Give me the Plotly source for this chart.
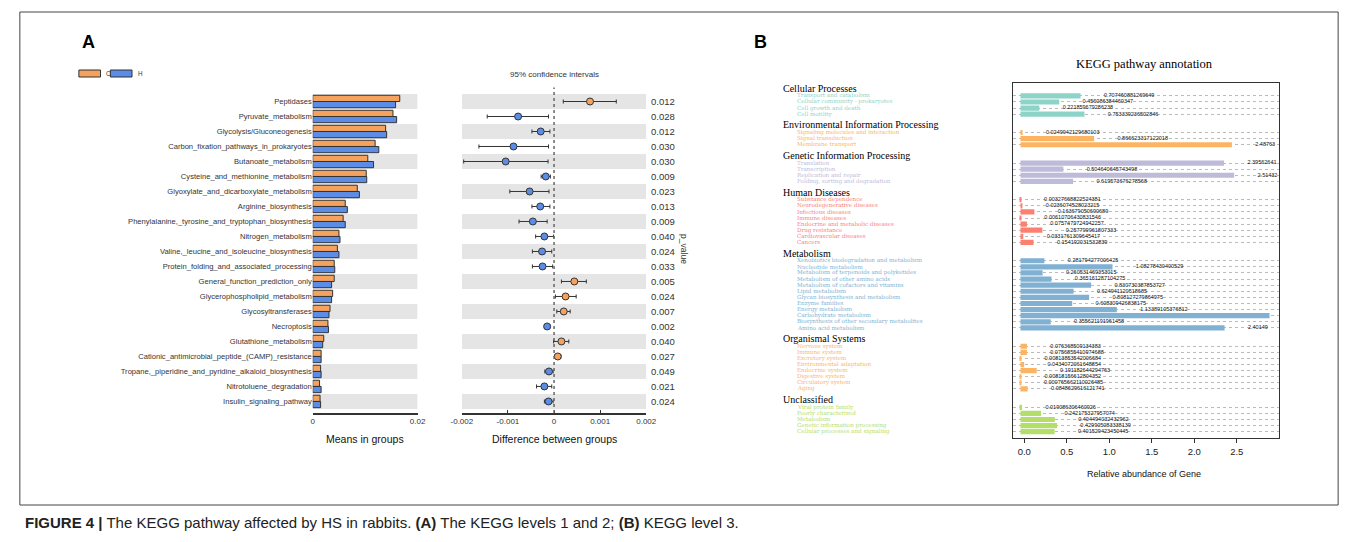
import plotly.graph_objects as go

W, H = 1358, 542

# ---------------- Panel A data ----------------
pathways = ["Peptidases", "Pyruvate_metabolism", "Glycolysis/Gluconeogenesis",
            "Carbon_fixation_pathways_in_prokaryotes", "Butanoate_metabolism",
            "Cysteine_and_methionine_metabolism", "Glyoxylate_and_dicarboxylate_metabolism",
            "Arginine_biosynthesis", "Phenylalanine,_tyrosine_and_tryptophan_biosynthesis",
            "Nitrogen_metabolism", "Valine,_leucine_and_isoleucine_biosynthesis",
            "Protein_folding_and_associated_processing", "General_function_prediction_only",
            "Glycerophospholipid_metabolism", "Glycosyltransferases", "Necroptosis",
            "Glutathione_metabolism", "Cationic_antimicrobial_peptide_(CAMP)_resistance",
            "Tropane,_piperidine_and_pyridine_alkaloid_biosynthesis",
            "Nitrotoluene_degradation", "Insulin_signaling_pathway"]
mean_C = [0.0166, 0.0153, 0.0139, 0.0119, 0.0105, 0.0102, 0.0085, 0.0062, 0.0058, 0.0050,
          0.0047, 0.0041, 0.0041, 0.0038, 0.0033, 0.0029, 0.0021, 0.0016, 0.0015, 0.0013, 0.0014]
mean_H = [0.0158, 0.0160, 0.0141, 0.0126, 0.0116, 0.0103, 0.0089, 0.0066, 0.0062, 0.0052,
          0.0050, 0.0042, 0.0036, 0.0036, 0.0031, 0.0030, 0.0019, 0.0016, 0.0016, 0.0016, 0.0015]
diff = [0.00078, -0.00078, -0.00029, -0.00088, -0.00105, -0.00018, -0.00053, -0.00030,
        -0.00046, -0.00021, -0.00026, -0.00025, 0.00044, 0.00025, 0.00021, -0.00015,
        0.00016, 0.00008, -0.00011, -0.00021, -0.00012]
ci_low = [0.00020, -0.00145, -0.00048, -0.00163, -0.00196, -0.00028, -0.00096, -0.00048,
          -0.00076, -0.00040, -0.00047, -0.00047, 0.00016, 0.00003, 0.00006, -0.00021,
          -0.00001, 0.00002, -0.00020, -0.00038, -0.00021]
ci_high = [0.00135, -0.00012, -0.00009, -0.00012, -0.00013, -0.00008, -0.00011, -0.00009,
           -0.00015, -0.00001, -0.00005, -0.00003, 0.00070, 0.00048, 0.00035, -0.00009,
           0.00032, 0.00015, -0.00002, -0.00005, -0.00002]
p_values = ["0.012", "0.028", "0.012", "0.030", "0.030", "0.009", "0.023", "0.013", "0.009",
            "0.040", "0.024", "0.033", "0.005", "0.024", "0.007", "0.002", "0.040", "0.027",
            "0.049", "0.021", "0.024"]
group_names = ["C", "H"]
mean_ticks = [0, 0.02]
mean_ticktext = ["0", "0.02"]
diff_ticks = [-0.002, -0.001, 0, 0.001, 0.002]
diff_ticktext = ["-0.002", "-0.001", "0", "0.001", "0.002"]

# ---------------- Panel B data ----------------
kegg_groups = ["Cellular Processes", "Environmental Information Processing",
               "Genetic Information Processing", "Human Diseases", "Metabolism",
               "Organismal Systems", "Unclassified"]
group_colors = ["#8DD3C7", "#FDB462", "#BEBADA", "#FB8072", "#80B1D3", "#FDB462", "#B3DE69"]

cellular_items = ["Transport and catabolism", "Cellular community - prokaryotes",
                  "Cell growth and death", "Cell motility"]
cellular_values = [0.707460881269649, 0.456086384460347, 0.221859679286238, 0.753339236502846]

environmental_items = ["Signaling molecules and interaction", "Signal transduction",
                       "Membrane transport"]
environmental_values = [0.0249942129680103, 0.866623317122018, 2.48763]

genetic_items = ["Translation", "Transcription", "Replication and repair",
                 "Folding, sorting and degradation"]
genetic_values = [2.39562641, 0.504640645743498, 2.51432, 0.619573676278568]

human_items = ["Substance dependence", "Neurodegenerative diseases", "Infectious diseases",
               "Immune diseases", "Endocrine and metabolic diseases", "Drug resistance",
               "Cardiovascular diseases", "Cancers"]
human_values = [0.00327668822524381, 0.0236074528023215, 0.163679050690689,
                0.00610706430831546, 0.0757479724942257, 0.257799961807333,
                0.0331761309645417, 0.154192031532839]

metabolism_items = ["Xenobiotics biodegradation and metabolism", "Nucleotide metabolism",
                    "Metabolism of terpenoids and polyketides", "Metabolism of other amino acids",
                    "Metabolism of cofactors and vitamins", "Lipid metabolism",
                    "Glycan biosynthesis and metabolism", "Enzyme families", "Energy metabolism",
                    "Carbohydrate metabolism", "Biosynthesis of other secondary metabolites",
                    "Amino acid metabolism"]
metabolism_values = [0.281794277006425, 1.08278430400529, 0.260531469353015,
                     0.365161287104275, 0.830730387853727, 0.624941120518685,
                     0.808127279864975, 0.608309426838175, 1.13389105376812, 2.93,
                     0.355621191961458, 2.40149]

organismal_items = ["Nervous system", "Immune system", "Excretory system",
                    "Environmental adaptation", "Endocrine system", "Digestive system",
                    "Circulatory system", "Aging"]
organismal_values = [0.076368509134383, 0.0756855410974688, 0.00813853542006684,
                     0.0434072061648854, 0.191182644294763, 0.00818156612804352,
                     0.000765662110026485, 0.0848629616121741]

unclassified_items = ["Viral protein family", "Poorly characterized", "Metabolism",
                      "Genetic information processing", "Cellular processes and signaling"]
unclassified_values = [0.019086306460926, 0.242175327957074, 0.404494032432962,
                       0.429905083338139, 0.401529423450445]

group_items = [cellular_items, environmental_items, genetic_items, human_items,
               metabolism_items, organismal_items, unclassified_items]
group_values = [cellular_values, environmental_values, genetic_values, human_values,
                metabolism_values, organismal_values, unclassified_values]
abundance_ticks = [0.0, 0.5, 1.0, 1.5, 2.0, 2.5]
abundance_ticktext = ["0.0", "0.5", "1.0", "1.5", "2.0", "2.5"]

# ---------------- helpers ----------------
def px(x):
    return x / W


def py(y):
    return 1 - y / H


ORANGE = "#F5A25E"
BLUE = "#5B8DE6"
EDGE = "#333333"
SANS = "Liberation Sans, Arial, sans-serif"
SERIF = "Liberation Serif, Times New Roman, serif"
SERIF_WIDE = "DejaVu Serif, serif"


def note(text, x, y, size, color="#333333", family=SANS, xanchor="center", **kw):
    return dict(text=text, x=px(x), y=py(y), xref="paper", yref="paper",
                xanchor=xanchor, yanchor="middle", showarrow=False,
                font=dict(family=family, size=size, color=color), **kw)


fig = go.Figure()

# ---- Panel A: means in groups ----
for name, vals, col in zip(group_names, [mean_C, mean_H], [ORANGE, BLUE]):
    fig.add_trace(go.Bar(
        y=pathways, x=vals, orientation="h", name=name,
        marker=dict(color=col, line=dict(color=EDGE, width=1)),
        xaxis="x", yaxis="y", showlegend=False))

# ---- Panel A: difference with 95% CI ----
fig.add_trace(go.Scatter(
    x=diff, y=pathways, mode="markers", xaxis="x2", yaxis="y",
    marker=dict(size=7, color=[ORANGE if d > 0 else BLUE for d in diff],
                line=dict(color=EDGE, width=1)),
    error_x=dict(type="data", symmetric=False,
                 array=[h - d for h, d in zip(ci_high, diff)],
                 arrayminus=[d - l for d, l in zip(diff, ci_low)],
                 color=EDGE, thickness=1, width=2),
    showlegend=False))

shapes = []
annotations = []
n_rows = len(pathways)
for i in range(0, n_rows, 2):
    for xr, x0, x1 in [("x", 0, 0.02), ("x2", -0.002, 0.002)]:
        shapes.append(dict(type="rect", xref=xr, yref="y", x0=x0, x1=x1,
                           y0=i - 0.5, y1=i + 0.5, fillcolor="#E5E5E5",
                           line=dict(width=0), layer="below"))
shapes.append(dict(type="line", xref="x2", yref="y domain", x0=0, x1=0, y0=0, y1=1.02,
                   line=dict(color="#666666", width=1.5, dash="dot")))

for i, p in enumerate(p_values):
    annotations.append(dict(text=p, x=px(649), xref="paper", y=i, yref="y",
                            xanchor="left", yanchor="middle", showarrow=False,
                            font=dict(family=SANS, size=9.5, color="#333333")))

# legend swatches for C / H
for (x0, x1, col), (tx, name) in zip([(69, 91, ORANGE), (101, 123, BLUE)],
                                     [(94.5, "C"), (127, "H")]):
    shapes.append(dict(type="rect", xref="paper", yref="paper", x0=px(x0), x1=px(x1),
                       y0=py(77), y1=py(70), fillcolor=col, line=dict(color=EDGE, width=1)))
    annotations.append(note(name, tx, 73.5, 6.3, xanchor="left"))

annotations += [
    note("95% confidence intervals", 552, 74, 8),
    note("p_value", 684, 249, 8.5, textangle=90),
    note("Means in groups", 360, 439, 10.5, color="#111111"),
    note("Difference between groups", 552, 439, 10.5, color="#111111"),
    note("<b>A</b>", 79, 42, 18, color="#000000"),
    note("<b>B</b>", 762, 42, 18, color="#000000"),
]

# ---- Panel B ----
row = 0
item_rows = []
for gname, gcol, items, vals in zip(kegg_groups, group_colors, group_items, group_values):
    annotations.append(dict(text=gname, x=px(783), xref="paper", y=row, yref="y3",
                            xanchor="left", yanchor="middle", showarrow=False, yshift=1.5,
                            font=dict(family=SERIF, size=10, color="#000000")))
    rows = list(range(row + 1, row + 1 + len(items)))
    for r, it in zip(rows, items):
        annotations.append(dict(text=it, x=px(797), xref="paper", y=r, yref="y3",
                                xanchor="left", yanchor="middle", showarrow=False,
                                font=dict(family=SERIF_WIDE, size=5.6, color=gcol)))
    fig.add_trace(go.Bar(
        y=rows, x=vals, base=-0.045, orientation="h", width=0.85,
        marker=dict(color=gcol, line=dict(width=0)),
        xaxis="x3", yaxis="y3", showlegend=False))
    fig.add_trace(go.Scatter(
        y=rows, x=[v + 0.23 for v in vals], text=[repr(v) for v in vals],
        mode="text", textposition="middle right", cliponaxis=True,
        textfont=dict(family=SANS, size=5.5, color="#111111"),
        xaxis="x3", yaxis="y3", showlegend=False, hoverinfo="skip"))
    item_rows += rows
    row += len(items) + 2

annotations += [
    note("KEGG pathway annotation", 1152, 64, 12.5, color="#000000", family=SERIF),
    note("Relative abundance of Gene", 1152, 474, 9, color="#111111"),
]

# frame and caption
shapes.append(dict(type="rect", xref="paper", yref="paper", x0=px(9), x1=px(1349),
                   y0=py(505), y1=py(12), line=dict(color="#444444", width=1),
                   fillcolor="rgba(0,0,0,0)"))
annotations.append(note(
    "<b>FIGURE 4 |</b> The KEGG pathway affected by HS in rabbits. <b>(A)</b> The KEGG "
    "levels 1 and 2; <b>(B)</b> KEGG level 3.", 12, 522, 15, color="#222222",
    xanchor="left"))

fig.update_layout(
    width=W, height=H, autosize=False, margin=dict(l=0, r=0, t=0, b=0),
    paper_bgcolor="white", plot_bgcolor="rgba(0,0,0,0)",
    barmode="group", bargap=0.17, bargroupgap=0,
    shapes=shapes, annotations=annotations,
    xaxis=dict(domain=[px(306.7), px(413.3)], range=[0, 0.02], anchor="y",
               tickvals=mean_ticks, ticktext=mean_ticktext, ticks="inside", ticklen=3,
               tickcolor=EDGE, showline=True, linecolor=EDGE, linewidth=1.5,
               showgrid=False, zeroline=False,
               tickfont=dict(family=SANS, size=8, color="#333333")),
    yaxis=dict(domain=[py(413), py(94)], type="category", range=[20.77, -0.5],
               anchor="x", showgrid=False, zeroline=False, ticks="", showline=False,
               tickfont=dict(family=SANS, size=7.6, color="#333333")),
    xaxis2=dict(domain=[px(458.3), px(645.7)], range=[-0.002, 0.002], anchor="y",
                tickvals=diff_ticks, ticktext=diff_ticktext, ticks="inside", ticklen=3,
                tickcolor=EDGE, showline=True, linecolor=EDGE, linewidth=1.5,
                showgrid=False, zeroline=False,
                tickfont=dict(family=SANS, size=8, color="#333333")),
    xaxis3=dict(domain=[px(1019), px(1289)], range=[-0.127, 2.998], anchor="y3",
                tickvals=abundance_ticks, ticktext=abundance_ticktext,
                ticks="outside", ticklen=4, tickcolor=EDGE, showline=True, mirror=True,
                linecolor="#333333", linewidth=1, showgrid=False, zeroline=False,
                tickfont=dict(family=SANS, size=9.5, color="#222222")),
    yaxis3=dict(domain=[py(438.3), py(83.3)], range=[57.08, -1.06], anchor="x3",
                tickvals=item_rows, showticklabels=False, ticks="", showgrid=True,
                gridcolor="#BBBBBB", griddash="dot", gridwidth=1, zeroline=False,
                showline=True, mirror=True, linecolor="#333333", linewidth=1),
)

fig.write_html("out.html", config={"displayModeBar": False},
               post_script="document.body.style.margin='0px';")
